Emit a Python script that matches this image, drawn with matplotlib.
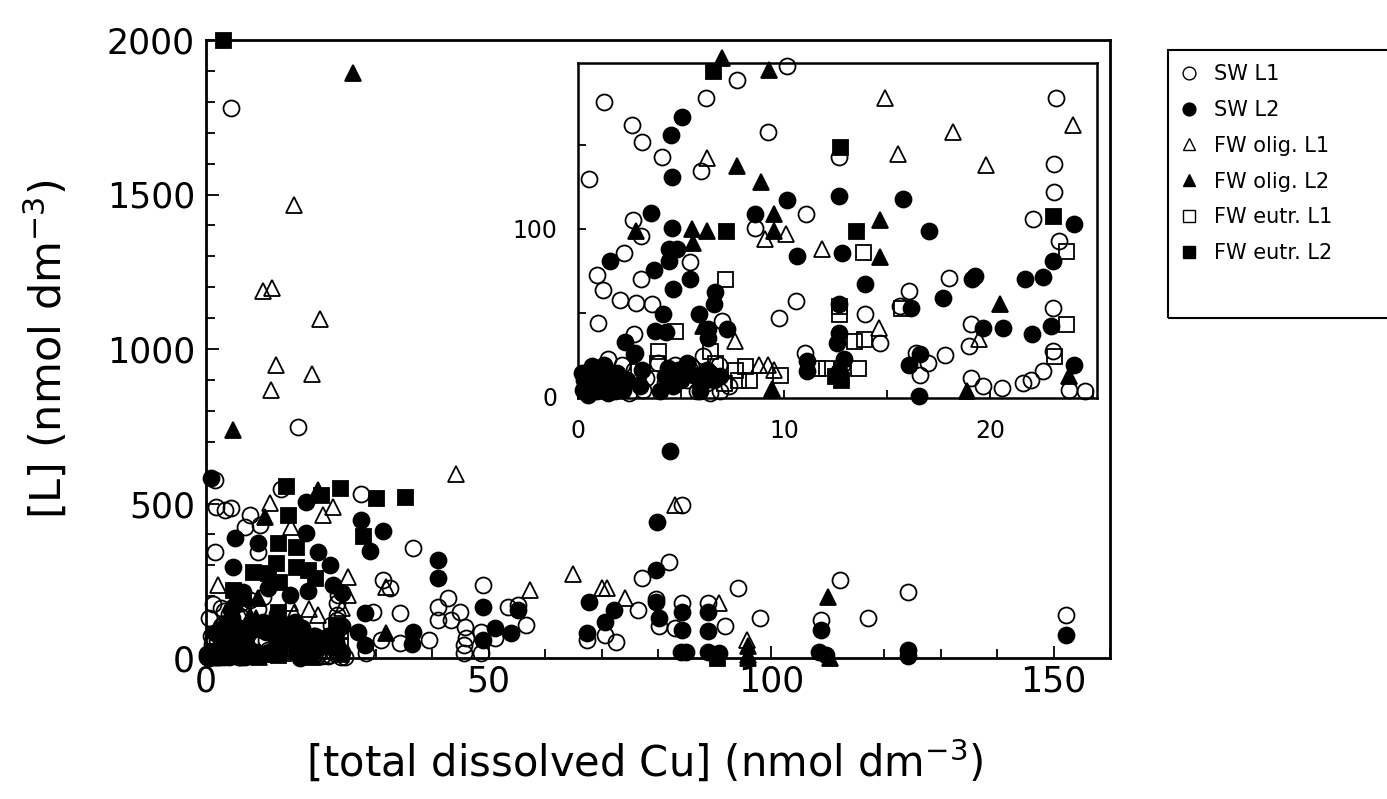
import numpy as np
import matplotlib
matplotlib.use("Agg")
import matplotlib.pyplot as plt
from matplotlib.lines import Line2D
from matplotlib.patches import Rectangle
from matplotlib.ticker import MultipleLocator, FixedLocator

# ligand concentration vs total dissolved Cu, per water type / ligand class
sw_l1_x = [16.3, 4.4, 1.6, 1.8, 3.4, 4.4, 7.8, 6.9, 9.6, 13.3, 27.5, 36.7, 1.6, 9.2, 31.4, 32.6, 23.4,
           49, 42.9, 41.1, 45, 41.1, 43.3, 45.9, 46.1, 45.6, 45.6, 48.6, 48.6, 51.2, 53.5, 56.7, 55.3,
           34.4, 34.4, 39.4, 29.6, 31, 28.4, 24.6, 84.3, 82, 77.1, 76.4, 79.6, 80.2, 67.5, 70.6, 72.5,
           84.3, 83, 88.9, 91.9, 94.2, 98.1, 112.2, 108.8, 117.2, 124.3, 152.3,
           1.28, 10.17, 7.74, 6.2, 2.6, 3.1, 4.1, 0.55, 5.95, 9.23, 12.65, 23.2, 23.1, 23.1, 11.08, 2.68,
           3.04, 8.58, 22.1, 23.37, 2.22, 5.44, 0.94, 3.04, 1.23, 2.02, 2.82, 3.59, 10.6, 9.74, 0.99,
           6.97, 13.93, 18.03, 16.07, 15.64, 23.08, 14.67, 19.06, 18.97, 16.4, 17, 17.8, 16.6, 19.06,
           19.66, 20.6, 21.6, 22, 22.6, 23.08, 23.85, 2.73, 11.03, 12.8, 1.45, 2.14, 2.7, 3.16, 3.9,
           4.7, 5.47, 5.8, 6.4, 6.9, 7.35, 3.3, 4.2, 2.5, 0.43, 0.77, 1.8, 5.3, 6.24, 6.84, 6.07]
sw_l1_y = [748, 1780, 576, 489, 479, 485, 463, 424, 430, 547, 531, 356, 343, 343, 252, 227, 204,
           236, 194, 165, 149, 123, 123, 100, 65, 42, 16, 16, 84, 65, 165, 107, 172,
           146, 49, 58, 149, 58, 16, 3, 495, 311, 259, 155, 191, 105, 59, 75, 51,
           177, 96, 177, 102, 225, 131, 252, 123, 129, 212, 139,
           175.6, 197, 189, 178, 162, 152, 143, 130, 134.5, 158, 143, 178, 138.5, 122, 108.7, 105,
           95.7, 100.7, 105.7, 92.8, 85.8, 80.2, 72.3, 70.3, 63.5, 57.6, 56, 55, 57, 47, 44,
           45, 49, 70.9, 63, 54, 53, 32, 43, 30, 26, 20, 24.5, 13, 11,
           6, 5, 8, 10, 15, 27, 4, 37, 26, 19, 22, 19, 16, 4, 20,
           19, 18, 3, 2, 3, 6, 11, 8, 2, 6, 16, 10, 10, 8, 19, 24]

sw_l2_x = [0.9, 17.7, 27.5, 31.4, 29, 17.7, 5.1, 9.2, 19.8, 22, 4.8, 41.1, 41.1, 49, 55.3, 51.2, 53.9,
           49, 36.7, 36.4, 28.2, 28.2, 26.9, 14.9, 22.5, 6.5, 11, 18, 24, 82.1, 79.8, 79.6, 67.7, 79.6,
           80.2, 70.6, 72.2, 67.5, 84.3, 84.3, 84, 84.9, 88.9, 88.9, 88.9, 90.8, 108.8, 108.5, 109.8,
           124.3, 124.3, 152.3,
           5.04, 4.5, 4.56, 3.56, 4.56, 8.6, 10.14, 12.68, 15.8, 17.06, 10.63, 12.8, 4.44, 4.8, 1.54,
           4.44, 3.7, 5.44, 4.6, 6.67, 6.58, 5.86, 4.14, 3.76, 4.27, 6.32, 7.23, 2.3, 2.78, 6.32, 13.93,
           12.65, 12.65, 12.56, 16.15, 17.7, 19.15, 19.3, 19.66, 20.63, 22.05, 21.68, 22.6, 23.08,
           24.07, 22.99, 16.6, 16.07, 24.07, 16.58, 11.1, 11.1, 12.65, 12.9, 0.26, 0.94, 1.45, 1.28,
           2.7, 3.1, 4.36, 4.87, 5.6, 6.24, 6.58, 5.9, 3, 0.6,
           0.3, 0.8, 1.2, 1.7, 2.2, 0.5, 1.9, 2.4, 0.9, 1.5,
           0.2, 0.7, 1.1, 1.6, 0.4, 1.0, 1.8, 4.2, 4.6, 5.0, 5.3, 6.0, 6.4, 6.9, 4.0]
sw_l2_y = [582, 505, 447, 411, 346, 405, 388, 372, 343, 301, 294, 317, 259, 165, 155, 97, 81,
           58, 84, 45, 146, 42, 84, 204, 236, 215, 225, 218, 210, 670, 439, 286, 182, 182,
           129, 118, 155, 80, 150, 91, 21, 19, 150, 86, 21, 16, 91, 21, 11,
           27, 5, 75,
           167, 156, 131, 109.7, 100.7, 109, 117, 119.6, 117.6, 98.7, 83.8, 85.8, 88.2, 88, 80.8,
           80.8, 75.5, 69.9, 64, 62, 55, 49, 49, 39, 38.5, 40, 40, 32.5, 26, 35, 67,
           55, 38, 32, 53, 59, 70, 72, 41, 40.5, 37, 70, 71, 81,
           102.7, 42, 25, 19, 19, 0.3, 21, 15, 15, 22, 4, 3, 2, 19,
           25, 16, 17, 16, 13, 16, 10, 3, 6, 8,
           10, 12, 6, 8, 4, 1, 14, 10, 16, 11,
           14, 18, 15, 12, 4, 7, 3, 12, 6, 10, 20, 8, 14, 12, 3]

fw_olig_l1_x = [12.4, 18.8, 11.5, 15.6, 10.1, 11.7, 20.2, 44.3, 11.3, 22.5, 20.7, 15.1, 25.2, 25.2,
                31.9, 57.4, 65, 2.1, 83, 70, 70.9, 74.2, 90.8, 95.8,
                14.92, 18.2, 15.52, 19.83, 24.05, 6.24, 9.06, 10.09, 11.85, 14.62, 19.45, 7.6, 8.8,
                9.23, 9.5, 5.56]
fw_olig_l1_y = [948, 919, 867, 1466, 1188, 1197, 1097, 595, 502, 489, 463, 424, 262, 204,
                230, 220, 273, 236, 495, 225, 225, 193, 177, 59,
                178, 158, 144.5, 138, 162, 142.5, 94, 97, 88, 41, 34, 33, 19,
                19, 16, 18]

fw_olig_l2_x = [26.1, 4.8, 19.9, 10.5, 31.9, 110.1, 96, 96, 96, 110.4,
                7.01, 9.26, 7.7, 8.89, 2.82, 5.52, 6.24, 5.56, 9.52, 9.52, 14.67, 14.67, 20.5, 18.9,
                9.44, 23.85, 6.07]
fw_olig_l2_y = [1893, 738, 544, 456, 81, 198, 38, 11, 0, 0,
                202, 195, 137.5, 128, 98.7, 99.7, 98.7, 91.7, 108.7, 98.7, 105, 83, 55, 3.3,
                4.3, 12, 42]

fw_eutr_l1_x = [7.13, 13.85, 4.7, 3.9, 6.4, 13.4, 13.9, 12.65, 12.65, 15.7, 23.7, 23.7, 23.1, 12.05,
                11.62, 13.6, 8.1, 8.3, 7.78, 7.1, 9.83, 6.67, 7.6, 3.85, 2.9]
fw_eutr_l1_y = [70, 86, 39, 27, 27, 33, 34, 54, 49, 53, 87, 43, 24, 17,
                17, 17, 18, 10, 10, 8, 13, 20, 16, 20, 15]

fw_eutr_l2_x = [3, 14.2, 23.8, 30.1, 35.3, 20.4, 14.5, 27.8, 12.8, 16, 12.4, 16, 18, 8.3, 11, 19.3, 13,
                4.8, 90.5, 6.55, 12.7, 13.5, 7.18, 23.08, 12.77, 12.5]
fw_eutr_l2_y = [2000, 556, 550, 518, 521, 527, 463, 395, 372, 359, 307, 294, 285, 278, 275, 259, 246,
                220, 0, 194, 149, 98.7, 98.7, 107.7, 10, 12]

labels = ["SW L1", "SW L2", "FW olig. L1", "FW olig. L2", "FW eutr. L1", "FW eutr. L2"]
series = [(sw_l1_x, sw_l1_y, "o", "none"),
          (sw_l2_x, sw_l2_y, "o", "black"),
          (fw_olig_l1_x, fw_olig_l1_y, "^", "none"),
          (fw_olig_l2_x, fw_olig_l2_y, "^", "black"),
          (fw_eutr_l1_x, fw_eutr_l1_y, "s", "none"),
          (fw_eutr_l2_x, fw_eutr_l2_y, "s", "black")]
sizes = {"o": 11.5, "^": 11.5, "s": 10.8}
# open symbols go down first, filled ones on top
draw_order = [0, 2, 4, 1, 3, 5]
edge_w = 1.3

W, H = 1387, 799
fig = plt.figure(figsize=(W / 100, H / 100), dpi=100)

# main panel
ax = fig.add_axes([206 / W, 1 - 658 / H, 904 / W, 618 / H])
for i in draw_order:
    x, y, m, fc = series[i]
    ax.plot(x, y, ls="none", marker=m, ms=sizes[m], mfc=fc, mec="black", mew=edge_w, clip_on=False)
ax.set_xlim(0, 160)
ax.set_ylim(0, 2000)
ax.xaxis.set_major_locator(FixedLocator([0, 50, 100, 150]))
ax.xaxis.set_minor_locator(MultipleLocator(10))
ax.yaxis.set_major_locator(MultipleLocator(500))
ax.yaxis.set_minor_locator(MultipleLocator(100))
ax.tick_params(which="both", direction="in", top=False, right=False, width=1.3, labelsize=25)
ax.tick_params(which="major", length=9)
ax.tick_params(which="minor", length=6.5)
ax.tick_params(axis="y", pad=8)
ax.tick_params(axis="x", pad=5)
for s in ax.spines.values():
    s.set_linewidth(2.0)
ax.set_xlabel(r"[total dissolved Cu] (nmol dm$^{-3}$)", fontsize=30)
ax.set_ylabel(r"[L] (nmol dm$^{-3}$)", fontsize=31)
ax.xaxis.set_label_coords(0.485, -0.13)
ax.yaxis.set_label_coords(-0.15, 0.5)

# inset: low-concentration region
axin = fig.add_axes([578 / W, 1 - 398 / H, 519 / W, 335 / H])
x0, x1, y0, y1 = 0, 25.2, -1, 199
for i in draw_order:
    x, y, m, fc = series[i]
    x = np.asarray(x, float)
    y = np.asarray(y, float)
    keep = (x <= x1 + 0.3) & (y <= 203)
    axin.plot(x[keep], y[keep], ls="none", marker=m, ms=sizes[m], mfc=fc, mec="black", mew=edge_w,
              clip_on=False)
axin.set_xlim(x0, x1)
axin.set_ylim(y0, y1)
axin.xaxis.set_major_locator(FixedLocator([0, 10, 20]))
axin.xaxis.set_minor_locator(FixedLocator([5, 15, 25]))
axin.yaxis.set_major_locator(FixedLocator([0, 100]))
axin.yaxis.set_minor_locator(FixedLocator([50, 150]))
axin.tick_params(which="both", direction="in", top=False, right=False, width=1.3, length=6,
                 labelsize=17, pad=15)
for s in axin.spines.values():
    s.set_linewidth(1.8)

# legend in its own box, running off the right edge
handles = [Line2D([], [], ls="none", marker=m, ms=sizes[m] * 0.8, mfc=fc, mec="black", mew=1.0)
           for _, _, m, fc in series]
fig.legend(handles, labels, loc="upper left", bbox_to_anchor=(1176 / W, 1 - 64 / H),
           frameon=False, fontsize=15, labelspacing=0.76, handletextpad=0.6, handlelength=1.2,
           borderpad=0, borderaxespad=0)
fig.patches.append(Rectangle((1168 / W, 1 - 318 / H), 0.2, (318 - 50) / H, transform=fig.transFigure,
                             fill=False, lw=1.5, ec="black"))

fig.savefig("out.png", dpi=100)
